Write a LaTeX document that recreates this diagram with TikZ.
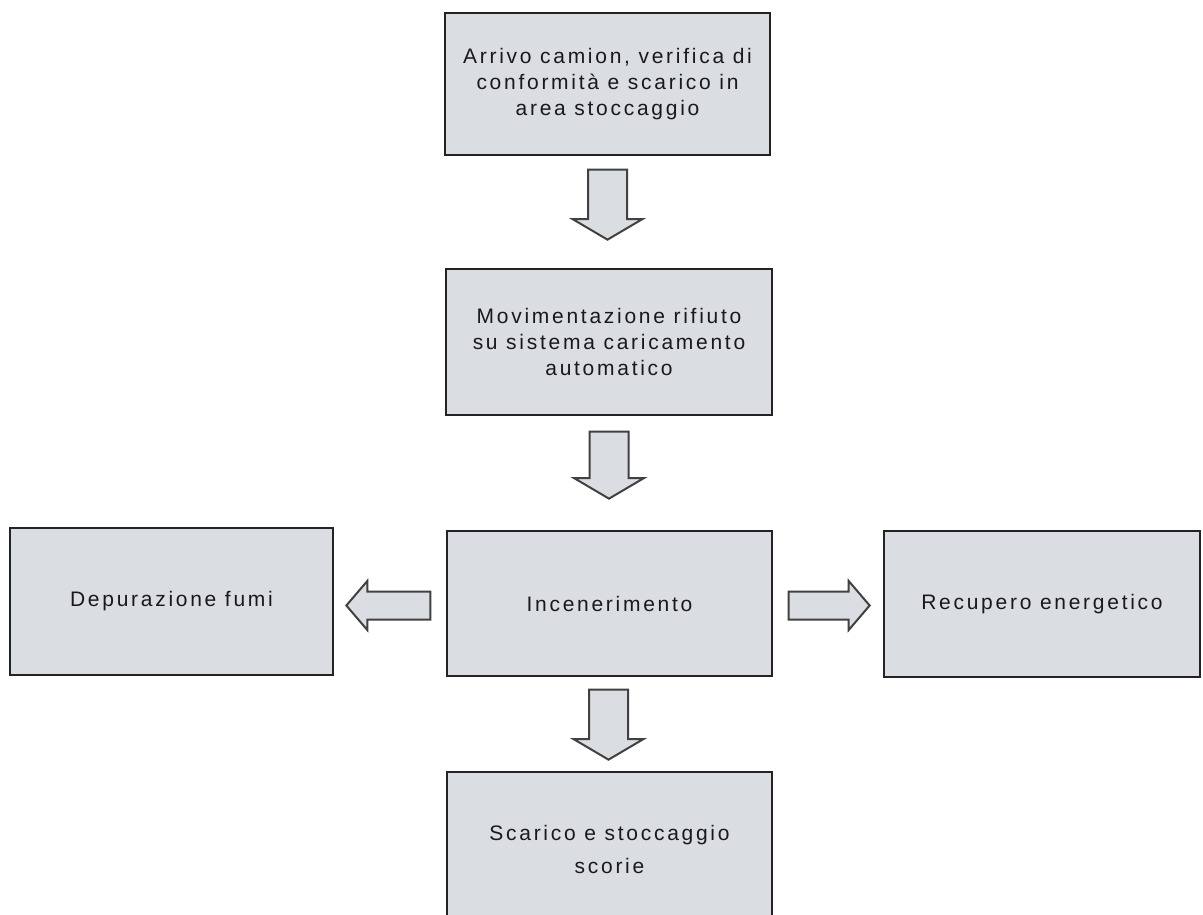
\documentclass[tikz,border=0pt]{standalone}
\usepackage{fontspec}
\setmainfont{Liberation Sans}
\newfontfamily\boxfont[LetterSpace=13]{Liberation Sans}
\usetikzlibrary{shapes.arrows,calc}
\definecolor{boxfill}{RGB}{218,221,226}
\definecolor{boxline}{RGB}{35,35,35}
\definecolor{arrline}{RGB}{65,65,65}
\definecolor{txt}{RGB}{25,25,25}
\tikzset{
  box/.style={draw=boxline, fill=boxfill, line width=1.3pt, rectangle, align=center,
    inner sep=0pt, text=txt, font=\boxfont\fontsize{21}{26}\selectfont},
  blk/.style={single arrow, draw=arrline, fill=boxfill, line width=2pt, anchor=tail},
  vblk/.style={blk, shape border rotate=270, inner sep=18.5pt, minimum height=70pt,
    single arrow head extend=15.5pt, single arrow tip angle=119},
  hblk/.style={blk, inner sep=13pt, single arrow head extend=10.5pt, single arrow tip angle=99}
}
\begin{document}
\begin{tikzpicture}[x=1pt,y=1pt]
\useasboundingbox (0,0) rectangle (1203,-915);
\fill[white] (0,0) rectangle (1203,-915);
\begin{scope}
\clip (0,0) rectangle (1203,-915);
\node[box, minimum width=325pt, minimum height=142pt] (a) at (607.5,-84)
  {Arrivo camion, verifica di\\conformità e scarico in\\area stoccaggio};
\node[box, minimum width=326pt, minimum height=146pt] (b) at (609,-342)
  {Movimentazione rifiuto\\su sistema caricamento\\automatico};
\node[box, minimum width=325pt, minimum height=145pt] (c) at (609.5,-603.5)
  {Incenerimento};
\node[box, minimum width=323pt, minimum height=147pt] (l) at (171.5,-601.5)
  {Depurazione fumi};
\node[box, minimum width=316pt, minimum height=146pt] (r) at (1042,-604)
  {Recupero energetico};
\node[box, minimum width=325pt, minimum height=154pt] (e) at (609.5,-849)
  {Scarico e stoccaggio\\[7pt]scorie};

\node[vblk] (ar1) at ($(a.south)+(0,-13)$) {};
\node[vblk, minimum height=67pt] (ar2) at ($(b.south)+(0,-15)$) {};
\node[vblk] (ar3) at ($(c.south)+(-1,-12)$) {};
\node[hblk, shape border rotate=180, minimum height=84pt] (arl) at ($(c.west)+(-15,-2)$) {};
\node[hblk, minimum height=81pt] (arr) at ($(c.east)+(15,-2)$) {};
\end{scope}
\end{tikzpicture}
\end{document}
